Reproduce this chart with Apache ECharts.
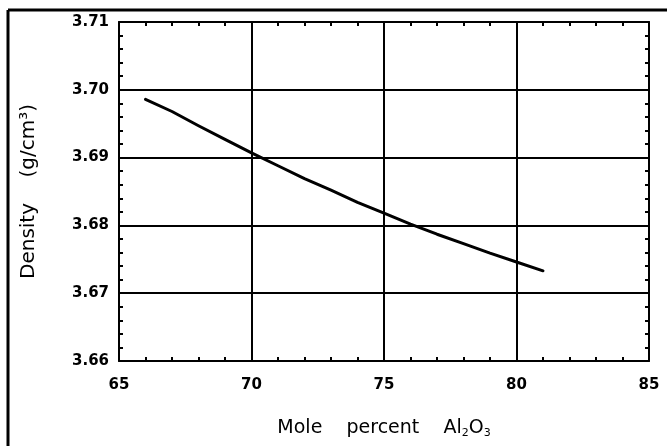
<!DOCTYPE html>
<html>
<head>
<meta charset="utf-8">
<script src="https://cdn.jsdelivr.net/npm/echarts@6/dist/echarts.min.js"></script>
<style>
html,body{margin:0;padding:0;background:#fff;}
#c{width:667px;height:446px;}
</style>
</head>
<body>
<div id="c"></div>
<script>
const moleAl2O3 = [66, 67, 68, 69, 70, 71, 72, 73, 74, 75, 76, 77, 78, 79, 80, 81];
const density = [3.6986, 3.6968, 3.6947, 3.6927, 3.6907, 3.6888, 3.6869, 3.6852, 3.6834, 3.6818, 3.6802, 3.6787, 3.6773, 3.6759, 3.6746, 3.6733];
const xTicks = [65, 70, 75, 80, 85];
const yTicks = [3.66, 3.67, 3.68, 3.69, 3.70, 3.71];

const chart = echarts.init(document.getElementById('c'), null, {renderer: 'canvas'});
const fontFam = '"DejaVu Sans", Verdana, sans-serif';
const lineData = moleAl2O3.map((x, i) => [x, density[i]]);

const baseX = {
  type: 'value', min: xTicks[0], max: xTicks[xTicks.length - 1], interval: 5,
  axisLine: {show: true, lineStyle: {color: '#000', width: 2}},
  axisTick: {show: true, inside: true, length: 5, lineStyle: {color: '#000', width: 2}},
  minorTick: {show: true, splitNumber: 5, length: 4, lineStyle: {color: '#000', width: 2}},
};
const baseY = {
  type: 'value', min: yTicks[0], max: yTicks[yTicks.length - 1], interval: 0.01,
  axisLine: {show: true, lineStyle: {color: '#000', width: 2}},
  axisTick: {show: true, inside: true, length: 5, lineStyle: {color: '#000', width: 2}},
  minorTick: {show: true, splitNumber: 5, length: 4, lineStyle: {color: '#000', width: 2}},
};

chart.setOption({
  backgroundColor: '#fff',
  animation: false,
  grid: {left: 119, right: 18, top: 22, bottom: 85, containLabel: false},
  xAxis: [
    Object.assign({}, baseX, {
      position: 'bottom',
      splitLine: {show: true, lineStyle: {color: '#000', width: 2}},
      axisLabel: {color: '#000', fontSize: 15, fontWeight: 'bold', fontFamily: fontFam, margin: 17},
      name: '{t|Mole    percent    Al}{s|2}{t|O}{s|3}',
      nameLocation: 'middle', nameGap: 57,
      nameTextStyle: {
        rich: {
          t: {fontSize: 19, fontFamily: fontFam, color: '#000'},
          s: {fontSize: 11, fontFamily: fontFam, color: '#000', verticalAlign: 'bottom', padding: [10, 0, 0, 0]}
        }
      }
    }),
    Object.assign({}, baseX, {
      position: 'top',
      splitLine: {show: false},
      axisLabel: {show: false}
    })
  ],
  yAxis: [
    Object.assign({}, baseY, {
      position: 'left',
      splitLine: {show: true, lineStyle: {color: '#000', width: 2}},
      axisLabel: {color: '#000', fontSize: 15, fontWeight: 'bold', fontFamily: fontFam, margin: 10,
        formatter: v => v.toFixed(2)},
      name: 'Density    (g/cm³)',
      nameLocation: 'middle', nameGap: 80,
      nameTextStyle: {fontSize: 20, fontFamily: fontFam, color: '#000'}
    }),
    Object.assign({}, baseY, {
      position: 'right',
      splitLine: {show: false},
      axisLabel: {show: false}
    })
  ],
  series: [{
    type: 'line',
    xAxisIndex: 0, yAxisIndex: 0,
    data: lineData,
    smooth: false,
    showSymbol: false,
    symbol: 'none',
    lineStyle: {color: '#000', width: 3, join: 'round', cap: 'round'},
    z: 5
  }],
  graphic: [
    {type: 'line', shape: {x1: 8, y1: 10, x2: 667, y2: 10}, style: {stroke: '#000', lineWidth: 3}},
    {type: 'line', shape: {x1: 8, y1: 10, x2: 8, y2: 446}, style: {stroke: '#000', lineWidth: 3}}
  ]
});
</script>
</body>
</html>
